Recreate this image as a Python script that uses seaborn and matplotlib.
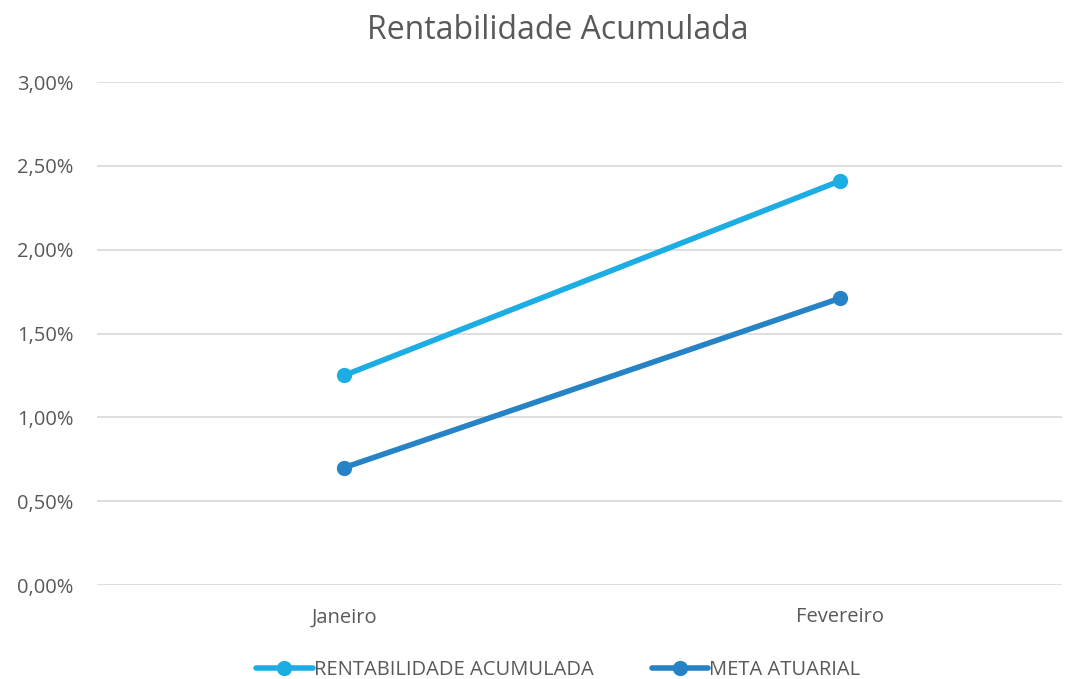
import pandas as pd
import matplotlib.pyplot as plt
import seaborn as sns
from matplotlib.ticker import FuncFormatter

meses = ['Janeiro', 'Fevereiro']
rentabilidade = [1.25, 2.41]
meta_atuarial = [0.70, 1.71]
series = ['RENTABILIDADE ACUMULADA', 'META ATUARIAL']
cores = ['#1CADE4', '#2683C6']

df = pd.DataFrame({
    'mes': meses * 2,
    'pos': list(range(len(meses))) * 2,
    'valor': rentabilidade + meta_atuarial,
    'serie': [series[0]] * len(meses) + [series[1]] * len(meses),
})

sns.set_theme(style='white')
plt.rcParams['font.family'] = ['Open Sans', 'DejaVu Sans']
texto = '#595959'

fig = plt.figure(figsize=(10.72, 6.79), dpi=100)
ax = fig.add_axes([0.0905, 0.1384, 0.9002, 0.7408])

sns.lineplot(data=df, x='pos', y='valor', hue='serie', hue_order=series,
             palette=cores, marker='o', markersize=11, markeredgewidth=0,
             linewidth=4, ax=ax, legend=True)

ax.set_ylim(0, 3)
ax.set_xlim(-0.498, 1.448)
ax.set_yticks([0, 0.5, 1, 1.5, 2, 2.5, 3])
ax.yaxis.set_major_formatter(FuncFormatter(lambda v, p: f'{v:.2f}%'.replace('.', ',')))
ax.set_xticks(range(len(meses)))
ax.set_xticklabels(meses)
ax.grid(axis='y', color='#D9D9D9', linewidth=1.2)
ax.set_axisbelow(True)
for s in ax.spines.values():
    s.set_visible(False)
ax.tick_params(axis='both', length=0, labelsize=14.5, colors=texto)
ax.tick_params(axis='y', pad=17)
ax.tick_params(axis='x', pad=16)
ax.set_xlabel('')
ax.set_ylabel('')

fig.suptitle('Rentabilidade Acumulada', x=0.52, y=0.98, fontsize=23, color=texto)

leg = ax.legend(loc='lower center', bbox_to_anchor=(0.478, -0.225), ncol=2,
                frameon=False, fontsize=14.5, handlelength=2.8, handletextpad=0.05,
                columnspacing=2.9)
for t in leg.get_texts():
    t.set_color(texto)

fig.savefig('out.png', dpi=100)
